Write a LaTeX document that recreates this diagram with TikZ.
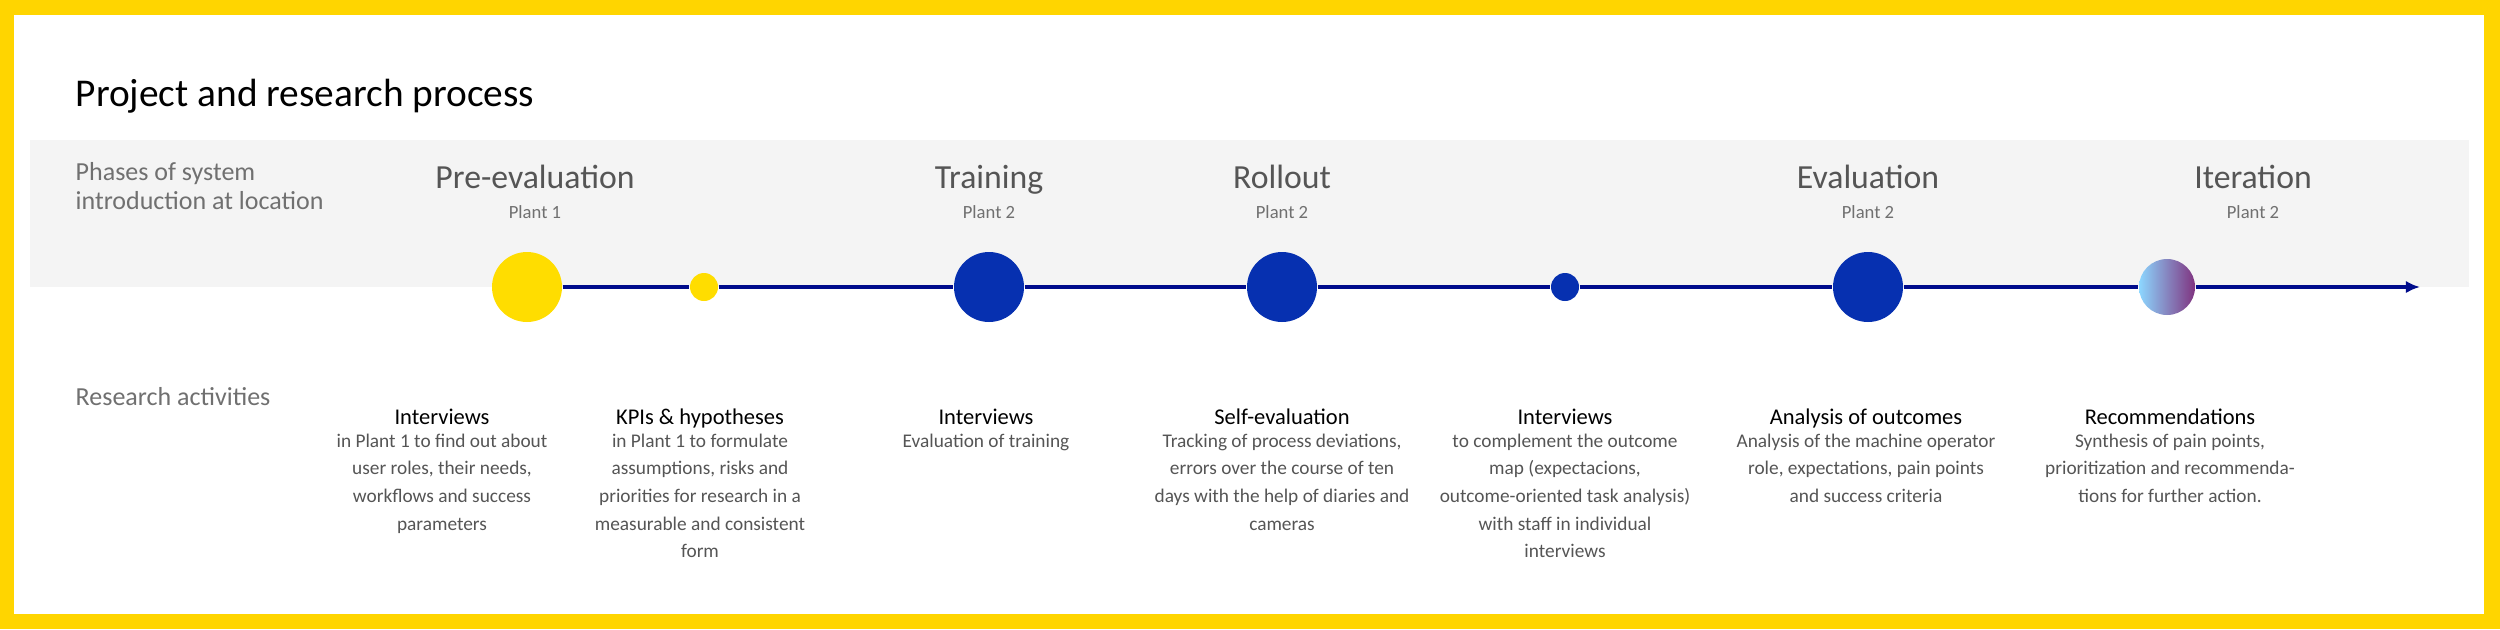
\documentclass[tikz,border=0pt]{standalone}
\usepackage{fontspec}
\setmainfont{Carlito}
\usetikzlibrary{positioning, arrows.meta}
\definecolor{frameyellow}{HTML}{FFD500}
\definecolor{dotyellow}{HTML}{FFDD00}
\definecolor{dotblue}{HTML}{0630B0}
\definecolor{linenavy}{HTML}{000C8C}
\definecolor{bandgray}{HTML}{F4F4F4}
\definecolor{txtgray}{HTML}{555555}
\definecolor{lblgray}{HTML}{707070}
\tikzset{
  bigdot/.style={circle, inner sep=0pt, minimum size=0.70cm},
  smalldot/.style={circle, inner sep=0pt, minimum size=0.28cm},
  phasetitle/.style={anchor=base, text=txtgray, font=\fontsize{9.6}{11}\selectfont},
  plantlbl/.style={anchor=base, text=lblgray, font=\fontsize{5.3}{6}\selectfont},
  acthead/.style={anchor=base, text=black, font=\fontsize{6.4}{7}\selectfont},
  actbody/.style={anchor=north, align=center, inner sep=0pt, text=txtgray, font=\fontsize{5.5}{7.88}\selectfont},
  sidelbl/.style={anchor=base west, align=left, inner sep=0pt, text=lblgray, font=\fontsize{7.4}{7.97}\selectfont},
  timeline/.style={linenavy, line width=0.9pt}
}
\begin{document}
\begin{tikzpicture}[x=1cm, y=1cm]
                \useasboundingbox (0,0) rectangle (25,-6.29);
                % frame and band
                \fill[frameyellow] (0,0) rectangle (25,-6.29);
                \fill[white] (0.14,-0.15) rectangle (24.84,-6.14);
                \fill[bandgray] (0.30,-1.40) rectangle (24.69,-2.87);

                \node[anchor=base west, inner sep=0pt, font=\fontsize{11.2}{12}\selectfont] (title) at (0.75,-1.06) {Project and research process};
                \node[sidelbl] (phases) at (0.75,-2.09) {Phases of system\\introduction at location};
                \node[sidelbl] (research) at (0.75,-4.05) {Research activities};

                % timeline dots
                \node[bigdot, fill=dotyellow] (pre) at (5.27,-2.87) {};
                \node[smalldot, fill=dotyellow] (kpi) at (7.04,-2.87) {};
                \node[bigdot, fill=dotblue] (train) at (9.89,-2.87) {};
                \node[bigdot, fill=dotblue] (roll) at (12.82,-2.87) {};
                \node[smalldot, fill=dotblue] (intv) at (15.65,-2.87) {};
                \node[bigdot, fill=dotblue] (eval) at (18.68,-2.87) {};
                \node[circle, inner sep=0pt, minimum size=0.56cm, left color=blue!35!cyan!45, right color=violet!60!gray] (iter) at (21.67,-2.87) {};
                \coordinate (end) at (24.20,-2.87);

                % Connections along the timeline
                \draw[timeline] (pre) -- (kpi);
                \draw[timeline] (kpi) -- (train);
                \draw[timeline] (train) -- (roll);
                \draw[timeline] (roll) -- (intv);
                \draw[timeline] (intv) -- (eval);
                \draw[timeline] (eval) -- (iter);
                \draw[timeline, -{Latex[length=4pt, width=3.5pt]}] (iter) -- (end);

                % phase names
                \node[phasetitle] (tpre) at (5.35,-1.88) {Pre-evaluation};
                \node[plantlbl] (ppre) at (5.35,-2.18) {Plant 1};
                \node[phasetitle] (ttrain) at (9.89,-1.88) {Training};
                \node[plantlbl] (ptrain) at (9.89,-2.18) {Plant 2};
                \node[phasetitle] (troll) at (12.82,-1.88) {Rollout};
                \node[plantlbl] (proll) at (12.82,-2.18) {Plant 2};
                \node[phasetitle] (teval) at (18.68,-1.88) {Evaluation};
                \node[plantlbl] (peval) at (18.68,-2.18) {Plant 2};
                \node[phasetitle] (titer) at (22.53,-1.88) {Iteration};
                \node[plantlbl] (piter) at (22.53,-2.18) {Plant 2};

                % research activities
                \node[acthead] (h1) at (4.42,-4.24) {Interviews};
                \node[actbody] at (4.42,-4.33) {in Plant 1 to find out about\\user roles, their needs,\\workflows and success\\parameters};
                \node[acthead] (h2) at (7.00,-4.24) {KPIs \& hypotheses};
                \node[actbody] at (7.00,-4.33) {in Plant 1 to formulate\\assumptions, risks and\\priorities for research in a\\measurable and consistent\\form};
                \node[acthead] (h3) at (9.86,-4.24) {Interviews};
                \node[actbody] at (9.86,-4.33) {Evaluation of training};
                \node[acthead] (h4) at (12.82,-4.24) {Self-evaluation};
                \node[actbody] at (12.82,-4.33) {Tracking of process deviations,\\errors over the course of ten\\days with the help of diaries and\\cameras};
                \node[acthead] (h5) at (15.65,-4.24) {Interviews};
                \node[actbody] at (15.65,-4.33) {to complement the outcome\\map (expectacions,\\outcome-oriented task analysis)\\with staff in individual\\interviews};
                \node[acthead] (h6) at (18.66,-4.24) {Analysis of outcomes};
                \node[actbody] at (18.66,-4.33) {Analysis of the machine operator\\role, expectations, pain points\\and success criteria};
                \node[acthead] (h7) at (21.70,-4.24) {Recommendations};
                \node[actbody] at (21.70,-4.33) {Synthesis of pain points,\\prioritization and recommenda-\\tions for further action.};
\end{tikzpicture}
\end{document}
